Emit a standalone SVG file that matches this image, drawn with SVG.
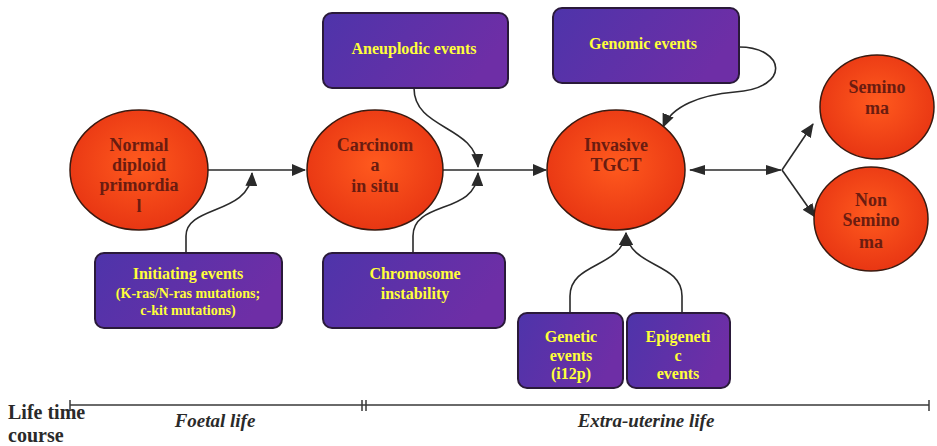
<svg xmlns="http://www.w3.org/2000/svg" width="937" height="446" viewBox="0 0 937 446">
<defs>
<radialGradient id="gRed" cx="0.5" cy="0.45" r="0.6">
<stop offset="0" stop-color="#ff5a1e"/>
<stop offset="1" stop-color="#e63312"/>
</radialGradient>
<linearGradient id="gBox" x1="0" y1="0" x2="1" y2="0.3">
<stop offset="0" stop-color="#4e34aa"/>
<stop offset="1" stop-color="#6e2ea6"/>
</linearGradient>
<marker id="ah" markerUnits="userSpaceOnUse" markerWidth="14" markerHeight="12" viewBox="0 0 14 12" refX="13" refY="6" orient="auto">
<path d="M0,0 L14,6 L0,12 Z" fill="#2a2a2a"/>
</marker>
<marker id="dh" markerUnits="userSpaceOnUse" markerWidth="16" markerHeight="10" viewBox="0 0 16 10" refX="15" refY="5" orient="auto-start-reverse">
<path d="M0,0 L16,5 L0,10 Z" fill="#2a2a2a"/>
</marker>
<style>
.ell{fill:url(#gRed);stroke:#3a1a10;stroke-width:1.5}
.box{fill:url(#gBox);stroke:#2a1a3a;stroke-width:2}
.et{font-family:"Liberation Serif","Times New Roman",serif;font-weight:bold;font-size:18px;fill:#6a1c10;text-anchor:middle}
.bt{font-family:"Liberation Serif","Times New Roman",serif;font-weight:bold;font-size:16px;fill:#ffff3a;text-anchor:middle}
.bs{font-size:14px}
.cn{fill:none;stroke:#2a2a2a;stroke-width:1.6}
.tl{font-family:"Liberation Serif","Times New Roman",serif;font-weight:bold;font-size:20px;fill:#2a2a2a}
.ti{font-family:"Liberation Serif","Times New Roman",serif;font-weight:bold;font-style:italic;font-size:19px;fill:#2a2a2a;text-anchor:middle}
</style>
</defs>
<rect width="937" height="446" fill="#ffffff"/>

<g id="connectors">
<path class="cn" d="M208,170 L305,170" marker-end="url(#ah)"/>
<path class="cn" d="M186,253 L186,236 C186,205 250,215 252,173" marker-end="url(#ah)"/>
<path class="cn" d="M443,170 L546,170" marker-end="url(#ah)"/>
<path class="cn" d="M414,88 C414,130 476,125 478,167" marker-end="url(#ah)"/>
<path class="cn" d="M413,253 L413,236 C413,200 476,215 478,173" marker-end="url(#ah)"/>
<path class="cn" d="M739,47 C785,47 792,88 735,92 C700,95 672,106 663,127" marker-end="url(#ah)"/>
<path class="cn" d="M690,170 L781,170" stroke-width="3.5" marker-start="url(#dh)" marker-end="url(#dh)"/>
<path class="cn" d="M782,170 L813,124" marker-end="url(#ah)"/>
<path class="cn" d="M782,170 L815,217" marker-end="url(#ah)"/>
<path class="cn" d="M570,313 L570,296 C570,262 622,268 626,233" marker-end="url(#ah)"/>
<path class="cn" d="M682,313 L682,296 C682,262 630,268 626,233" marker-end="url(#ah)"/>
</g>

<g id="normal">
<ellipse class="ell" cx="139" cy="170" rx="69" ry="60"/>
<text class="et" x="139" y="151">Normal</text>
<text class="et" x="139" y="171">diploid</text>
<text class="et" x="139" y="191">primordia</text>
<text class="et" x="139" y="212">l</text>
</g>

<g id="cis">
<ellipse class="ell" cx="375" cy="170" rx="68" ry="60"/>
<text class="et" x="375" y="151">Carcinom</text>
<text class="et" x="375" y="171">a</text>
<text class="et" x="375" y="192">in situ</text>
</g>

<g id="tgct">
<ellipse class="ell" cx="616" cy="170" rx="69" ry="60"/>
<text class="et" x="616" y="151">Invasive</text>
<text class="et" x="616" y="171">TGCT</text>
</g>

<g id="seminoma">
<ellipse class="ell" cx="877" cy="107" rx="57" ry="52"/>
<text class="et" x="877" y="93">Semino</text>
<text class="et" x="877" y="114">ma</text>
</g>

<g id="nonseminoma">
<ellipse class="ell" cx="871" cy="219" rx="57" ry="52"/>
<text class="et" x="871" y="206">Non</text>
<text class="et" x="871" y="226">Semino</text>
<text class="et" x="871" y="248">ma</text>
</g>

<g id="initiating">
<rect class="box" x="95" y="253" width="187" height="75" rx="9"/>
<text class="bt" x="188" y="279">Initiating events</text>
<text class="bt bs" x="188" y="298">(K-ras/N-ras mutations;</text>
<text class="bt bs" x="188" y="315">c-kit mutations)</text>
</g>

<g id="chromosome">
<rect class="box" x="323" y="253" width="182" height="75" rx="9"/>
<text class="bt" x="415" y="279">Chromosome</text>
<text class="bt" x="415" y="299">instability</text>
</g>

<g id="aneuplodic">
<rect class="box" x="323" y="13" width="185" height="75" rx="9"/>
<text class="bt" x="414" y="54">Aneuplodic events</text>
</g>

<g id="genomic">
<rect class="box" x="553" y="8" width="186" height="75" rx="9"/>
<text class="bt" x="643" y="49">Genomic events</text>
</g>

<g id="genetic">
<rect class="box" x="518" y="313" width="105" height="75" rx="9"/>
<text class="bt" x="571" y="342">Genetic</text>
<text class="bt" x="571" y="361">events</text>
<text class="bt" x="571" y="379">(i12p)</text>
</g>

<g id="epigenetic">
<rect class="box" x="627" y="313" width="103" height="75" rx="9"/>
<text class="bt" x="678" y="342">Epigeneti</text>
<text class="bt" x="678" y="361">c</text>
<text class="bt" x="678" y="379">events</text>
</g>

<g id="timeline">
<path d="M70,405 L929,405 M70,400 L70,411 M362,400 L362,411 M366,400 L366,411 M929,400 L929,411" fill="none" stroke="#3a3a3a" stroke-width="1.5"/>
<text class="tl" x="8" y="419">Life time</text>
<text class="tl" x="8" y="442">course</text>
<text class="ti" x="215" y="427">Foetal life</text>
<text class="ti" x="646" y="427">Extra-uterine life</text>
</g>
</svg>
